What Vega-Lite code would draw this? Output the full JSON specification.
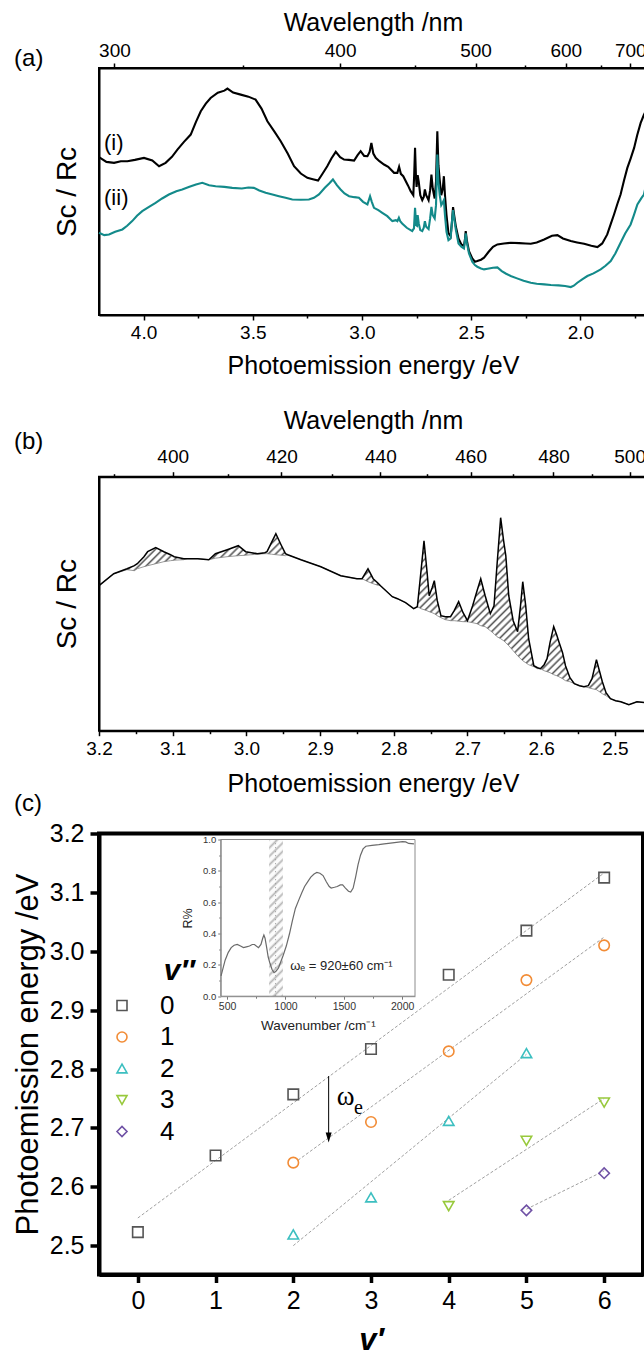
{
"$schema": "https://vega.github.io/schema/vega-lite/v6.json",
"padding": {"left": 10, "top": 9, "right": 0, "bottom": 0},
"config": {
 "font": "Liberation Sans",
 "view": {"stroke": null},
 "axis": {"grid": false, "domainColor": "#000", "tickColor": "#000", "labelColor": "#000", "titleColor": "#000", "titleFontWeight": "normal", "labelFlush": false, "labelOverlap": false, "labelFont": "Liberation Sans", "titleFont": "Liberation Sans"},
 "legend": {"labelFont": "Liberation Sans"},
 "text": {"color": "#000"}
},
"datasets": {
 "ai": [{"E":4.204,"I":474},{"E":4.17,"I":460},{"E":4.135,"I":457},{"E":4.104,"I":462},{"E":4.074,"I":462},{"E":4.04,"I":466},{"E":3.998,"I":472},{"E":3.96,"I":464},{"E":3.929,"I":447},{"E":3.899,"I":457},{"E":3.87,"I":475},{"E":3.845,"I":497},{"E":3.815,"I":520},{"E":3.784,"I":542},{"E":3.76,"I":580},{"E":3.738,"I":612},{"E":3.715,"I":635},{"E":3.693,"I":652},{"E":3.66,"I":668},{"E":3.63,"I":674},{"E":3.616,"I":680},{"E":3.59,"I":668},{"E":3.555,"I":662},{"E":3.52,"I":656},{"E":3.487,"I":647},{"E":3.46,"I":620},{"E":3.433,"I":582},{"E":3.4,"I":550},{"E":3.372,"I":522},{"E":3.34,"I":485},{"E":3.311,"I":447},{"E":3.28,"I":425},{"E":3.25,"I":412},{"E":3.225,"I":408},{"E":3.201,"I":404},{"E":3.18,"I":425},{"E":3.159,"I":447},{"E":3.14,"I":470},{"E":3.12,"I":490},{"E":3.1,"I":474},{"E":3.082,"I":467},{"E":3.06,"I":466},{"E":3.036,"I":464},{"E":3.02,"I":480},{"E":3.006,"I":492},{"E":2.99,"I":478},{"E":2.975,"I":477},{"E":2.965,"I":490},{"E":2.957,"I":517},{"E":2.948,"I":485},{"E":2.937,"I":472},{"E":2.92,"I":462},{"E":2.899,"I":452},{"E":2.88,"I":445},{"E":2.853,"I":427},{"E":2.838,"I":427},{"E":2.83,"I":445},{"E":2.822,"I":424},{"E":2.811,"I":417},{"E":2.79,"I":390},{"E":2.777,"I":372},{"E":2.765,"I":360},{"E":2.761,"I":420},{"E":2.757,"I":502},{"E":2.753,"I":420},{"E":2.75,"I":385},{"E":2.745,"I":420},{"E":2.74,"I":400},{"E":2.733,"I":360},{"E":2.724,"I":345},{"E":2.717,"I":355},{"E":2.712,"I":377},{"E":2.706,"I":360},{"E":2.695,"I":345},{"E":2.688,"I":375},{"E":2.682,"I":422},{"E":2.676,"I":380},{"E":2.667,"I":350},{"E":2.661,"I":400},{"E":2.655,"I":552},{"E":2.65,"I":450},{"E":2.644,"I":405},{"E":2.637,"I":360},{"E":2.63,"I":380},{"E":2.625,"I":417},{"E":2.62,"I":360},{"E":2.613,"I":300},{"E":2.604,"I":245},{"E":2.594,"I":237},{"E":2.588,"I":280},{"E":2.583,"I":324},{"E":2.578,"I":300},{"E":2.57,"I":265},{"E":2.558,"I":230},{"E":2.545,"I":212},{"E":2.533,"I":207},{"E":2.528,"I":230},{"E":2.525,"I":252},{"E":2.52,"I":225},{"E":2.51,"I":192},{"E":2.495,"I":170},{"E":2.483,"I":160},{"E":2.472,"I":162},{"E":2.455,"I":166},{"E":2.441,"I":172},{"E":2.42,"I":190},{"E":2.4,"I":205},{"E":2.38,"I":212},{"E":2.35,"I":215},{"E":2.319,"I":217},{"E":2.28,"I":216},{"E":2.25,"I":215},{"E":2.227,"I":214},{"E":2.2,"I":218},{"E":2.166,"I":227},{"E":2.13,"I":238},{"E":2.105,"I":240},{"E":2.08,"I":230},{"E":2.044,"I":222},{"E":2.015,"I":218},{"E":1.983,"I":214},{"E":1.95,"I":208},{"E":1.922,"I":204},{"E":1.9,"I":215},{"E":1.877,"I":242},{"E":1.86,"I":275},{"E":1.846,"I":302},{"E":1.83,"I":335},{"E":1.816,"I":362},{"E":1.8,"I":405},{"E":1.785,"I":442},{"E":1.77,"I":470},{"E":1.754,"I":502},{"E":1.74,"I":540},{"E":1.724,"I":577},{"E":1.71,"I":600},{"E":1.701,"I":612},{"E":1.695,"I":622}],
 "aii": [{"E":4.204,"I":247},{"E":4.18,"I":240},{"E":4.158,"I":242},{"E":4.13,"I":250},{"E":4.097,"I":257},{"E":4.075,"I":268},{"E":4.052,"I":282},{"E":4.03,"I":298},{"E":4.006,"I":312},{"E":3.975,"I":325},{"E":3.945,"I":337},{"E":3.915,"I":350},{"E":3.884,"I":362},{"E":3.85,"I":372},{"E":3.823,"I":377},{"E":3.79,"I":385},{"E":3.76,"I":392},{"E":3.731,"I":397},{"E":3.7,"I":390},{"E":3.67,"I":387},{"E":3.63,"I":385},{"E":3.594,"I":382},{"E":3.55,"I":380},{"E":3.52,"I":383},{"E":3.495,"I":382},{"E":3.47,"I":374},{"E":3.441,"I":367},{"E":3.41,"I":362},{"E":3.38,"I":357},{"E":3.35,"I":352},{"E":3.319,"I":347},{"E":3.28,"I":346},{"E":3.243,"I":347},{"E":3.22,"I":352},{"E":3.197,"I":362},{"E":3.17,"I":382},{"E":3.15,"I":395},{"E":3.133,"I":407},{"E":3.115,"I":390},{"E":3.098,"I":377},{"E":3.08,"I":365},{"E":3.059,"I":357},{"E":3.035,"I":354},{"E":3.014,"I":352},{"E":2.995,"I":340},{"E":2.975,"I":332},{"E":2.963,"I":357},{"E":2.955,"I":340},{"E":2.945,"I":322},{"E":2.925,"I":315},{"E":2.907,"I":307},{"E":2.884,"I":297},{"E":2.861,"I":282},{"E":2.845,"I":285},{"E":2.838,"I":282},{"E":2.831,"I":292},{"E":2.825,"I":282},{"E":2.816,"I":275},{"E":2.795,"I":262},{"E":2.77,"I":252},{"E":2.762,"I":260},{"E":2.757,"I":322},{"E":2.752,"I":270},{"E":2.748,"I":268},{"E":2.745,"I":300},{"E":2.74,"I":275},{"E":2.733,"I":255},{"E":2.724,"I":252},{"E":2.717,"I":262},{"E":2.712,"I":282},{"E":2.706,"I":265},{"E":2.695,"I":258},{"E":2.688,"I":290},{"E":2.682,"I":325},{"E":2.676,"I":300},{"E":2.667,"I":290},{"E":2.661,"I":330},{"E":2.655,"I":482},{"E":2.65,"I":400},{"E":2.644,"I":360},{"E":2.637,"I":330},{"E":2.63,"I":338},{"E":2.625,"I":345},{"E":2.62,"I":300},{"E":2.613,"I":250},{"E":2.604,"I":225},{"E":2.594,"I":230},{"E":2.588,"I":280},{"E":2.583,"I":315},{"E":2.578,"I":290},{"E":2.57,"I":255},{"E":2.558,"I":215},{"E":2.545,"I":205},{"E":2.533,"I":200},{"E":2.528,"I":225},{"E":2.525,"I":245},{"E":2.52,"I":218},{"E":2.51,"I":185},{"E":2.495,"I":160},{"E":2.483,"I":150},{"E":2.472,"I":145},{"E":2.455,"I":140},{"E":2.441,"I":137},{"E":2.425,"I":139},{"E":2.4,"I":142},{"E":2.38,"I":143},{"E":2.36,"I":132},{"E":2.34,"I":124},{"E":2.319,"I":117},{"E":2.29,"I":110},{"E":2.26,"I":103},{"E":2.227,"I":97},{"E":2.2,"I":94},{"E":2.165,"I":92},{"E":2.135,"I":90},{"E":2.1,"I":89},{"E":2.07,"I":87},{"E":2.044,"I":84},{"E":2.03,"I":88},{"E":2.014,"I":97},{"E":1.99,"I":108},{"E":1.968,"I":117},{"E":1.94,"I":125},{"E":1.907,"I":137},{"E":1.885,"I":148},{"E":1.861,"I":162},{"E":1.84,"I":185},{"E":1.816,"I":217},{"E":1.795,"I":245},{"E":1.77,"I":272},{"E":1.755,"I":300},{"E":1.739,"I":332},{"E":1.72,"I":352},{"E":1.709,"I":362},{"E":1.7,"I":390},{"E":1.695,"I":405}],
 "b": [{"E":3.2,"s":145,"b":145},{"E":3.18,"s":157,"b":157},{"E":3.162,"s":162,"b":161},{"E":3.152,"s":165,"b":160},{"E":3.148,"s":167,"b":162},{"E":3.139,"s":174,"b":164},{"E":3.134,"s":179,"b":165},{"E":3.123,"s":183,"b":167},{"E":3.112,"s":179,"b":169},{"E":3.103,"s":176,"b":170},{"E":3.098,"s":174,"b":170.5},{"E":3.085,"s":172,"b":171},{"E":3.08,"s":172,"b":172},{"E":3.066,"s":172,"b":172},{"E":3.051,"s":171,"b":171},{"E":3.042,"s":177,"b":172.5},{"E":3.026,"s":181,"b":174},{"E":3.011,"s":185,"b":175},{"E":3.001,"s":179,"b":175.5},{"E":2.985,"s":177,"b":176.5},{"E":2.975,"s":178,"b":177},{"E":2.972,"s":179,"b":177},{"E":2.966,"s":188,"b":176.5},{"E":2.96,"s":197,"b":176},{"E":2.953,"s":186,"b":175.5},{"E":2.947,"s":177,"b":175},{"E":2.944,"s":176,"b":176},{"E":2.926,"s":171,"b":171},{"E":2.899,"s":164,"b":164},{"E":2.872,"s":155,"b":155},{"E":2.85,"s":152,"b":152},{"E":2.843,"s":152,"b":152},{"E":2.835,"s":162,"b":149},{"E":2.828,"s":152,"b":147},{"E":2.822,"s":148,"b":145.5},{"E":2.818,"s":145,"b":145},{"E":2.802,"s":134,"b":134},{"E":2.795,"s":132,"b":132},{"E":2.784,"s":128,"b":128},{"E":2.773,"s":122,"b":122},{"E":2.768,"s":124,"b":124},{"E":2.763,"s":160,"b":122},{"E":2.759,"s":190,"b":121},{"E":2.755,"s":160,"b":120},{"E":2.752,"s":135,"b":119},{"E":2.748,"s":143,"b":118},{"E":2.745,"s":150,"b":117},{"E":2.741,"s":130,"b":115},{"E":2.736,"s":115,"b":113},{"E":2.73,"s":114,"b":111},{"E":2.723,"s":114,"b":110},{"E":2.718,"s":120,"b":110},{"E":2.712,"s":129,"b":109.5},{"E":2.706,"s":118,"b":109},{"E":2.7,"s":110,"b":109},{"E":2.693,"s":125,"b":108},{"E":2.687,"s":140,"b":107},{"E":2.682,"s":152,"b":105},{"E":2.676,"s":135,"b":104},{"E":2.669,"s":117,"b":100},{"E":2.664,"s":125,"b":97},{"E":2.66,"s":165,"b":94},{"E":2.655,"s":213,"b":92},{"E":2.651,"s":190,"b":90},{"E":2.648,"s":175,"b":88},{"E":2.644,"s":135,"b":85},{"E":2.638,"s":110,"b":80},{"E":2.632,"s":99,"b":75},{"E":2.628,"s":125,"b":72},{"E":2.625,"s":149,"b":70},{"E":2.621,"s":125,"b":68},{"E":2.617,"s":92,"b":66},{"E":2.61,"s":65,"b":64},{"E":2.605,"s":63,"b":62},{"E":2.601,"s":62,"b":62},{"E":2.596,"s":66,"b":60},{"E":2.592,"s":72,"b":59},{"E":2.588,"s":88,"b":58},{"E":2.583,"s":104,"b":56},{"E":2.579,"s":96,"b":55},{"E":2.576,"s":89,"b":54},{"E":2.571,"s":78,"b":52},{"E":2.567,"s":65,"b":50},{"E":2.561,"s":53,"b":49},{"E":2.555,"s":47,"b":47},{"E":2.548,"s":45,"b":45},{"E":2.542,"s":44,"b":44},{"E":2.536,"s":45,"b":43},{"E":2.531,"s":52,"b":42},{"E":2.525,"s":71,"b":41},{"E":2.521,"s":60,"b":39},{"E":2.517,"s":49,"b":37},{"E":2.512,"s":38,"b":35},{"E":2.506,"s":32,"b":32},{"E":2.499,"s":30,"b":30},{"E":2.492,"s":29,"b":29},{"E":2.481,"s":26,"b":26},{"E":2.47,"s":29,"b":29},{"E":2.4564,"s":28,"b":28}],
 "inset": [{"k":448,"R":0.13},{"k":483,"R":0.23},{"k":510,"R":0.28},{"k":535,"R":0.31},{"k":560,"R":0.325},{"k":587,"R":0.33},{"k":615,"R":0.32},{"k":640,"R":0.31},{"k":665,"R":0.315},{"k":692,"R":0.32},{"k":715,"R":0.33},{"k":734,"R":0.33},{"k":750,"R":0.32},{"k":769,"R":0.31},{"k":790,"R":0.33},{"k":805,"R":0.37},{"k":815,"R":0.39},{"k":825,"R":0.37},{"k":839,"R":0.31},{"k":852,"R":0.25},{"k":867,"R":0.21},{"k":885,"R":0.17},{"k":902,"R":0.15},{"k":920,"R":0.16},{"k":940,"R":0.18},{"k":955,"R":0.21},{"k":980,"R":0.26},{"k":1007,"R":0.32},{"k":1035,"R":0.4},{"k":1059,"R":0.48},{"k":1085,"R":0.56},{"k":1112,"R":0.61},{"k":1140,"R":0.66},{"k":1164,"R":0.7},{"k":1190,"R":0.73},{"k":1217,"R":0.76},{"k":1245,"R":0.78},{"k":1269,"R":0.79},{"k":1295,"R":0.785},{"k":1322,"R":0.77},{"k":1350,"R":0.73},{"k":1375,"R":0.7},{"k":1392,"R":0.69},{"k":1420,"R":0.695},{"k":1444,"R":0.7},{"k":1470,"R":0.71},{"k":1490,"R":0.71},{"k":1514,"R":0.69},{"k":1540,"R":0.67},{"k":1559,"R":0.665},{"k":1580,"R":0.69},{"k":1601,"R":0.76},{"k":1622,"R":0.84},{"k":1643,"R":0.9},{"k":1665,"R":0.94},{"k":1689,"R":0.957},{"k":1741,"R":0.962},{"k":1800,"R":0.967},{"k":1846,"R":0.972},{"k":1900,"R":0.977},{"k":1951,"R":0.982},{"k":2003,"R":0.987},{"k":2030,"R":0.985},{"k":2056,"R":0.975},{"k":2101,"R":0.972}],
 "pts": [{"vp":0,"E":2.523,"g":"0"},{"vp":1,"E":2.653,"g":"0"},{"vp":2,"E":2.757,"g":"0"},{"vp":3,"E":2.834,"g":"0"},{"vp":4,"E":2.96,"g":"0"},{"vp":5,"E":3.035,"g":"0"},{"vp":6,"E":3.125,"g":"0"},{"vp":2,"E":2.641,"g":"1"},{"vp":3,"E":2.71,"g":"1"},{"vp":4,"E":2.83,"g":"1"},{"vp":5,"E":2.951,"g":"1"},{"vp":6,"E":3.01,"g":"1"},{"vp":2,"E":2.519,"g":"2"},{"vp":3,"E":2.582,"g":"2"},{"vp":4,"E":2.712,"g":"2"},{"vp":5,"E":2.827,"g":"2"},{"vp":4,"E":2.567,"g":"3"},{"vp":5,"E":2.678,"g":"3"},{"vp":6,"E":2.743,"g":"3"},{"vp":5,"E":2.56,"g":"4"},{"vp":6,"E":2.623,"g":"4"}],
 "fits": [{"g":"0","vp":0,"E":2.547},{"g":"0","vp":6,"E":3.133},{"g":"1","vp":2.06,"E":2.645},{"g":"1","vp":6,"E":3.024},{"g":"2","vp":2,"E":2.5},{"g":"2","vp":5,"E":2.825},{"g":"3","vp":4,"E":2.577},{"g":"3","vp":6,"E":2.75},{"g":"4","vp":5,"E":2.562},{"g":"4","vp":6,"E":2.627}]
},
"resolve": {"scale": {"color": "independent", "shape": "independent"}, "legend": {"color": "independent", "shape": "independent"}},
"concat": [
 {"vconcat": [
  {
   "width": 548, "height": 247,
   "view": {"stroke": "#000", "strokeWidth": 2},
   "resolve": {"axis": {"x": "independent", "y": "independent"}},
   "layer": [
    {"data": {"name": "ai"}, "mark": {"type": "line", "color": "#000", "strokeWidth": 2.1},
     "encoding": {
      "x": {"field": "E", "type": "quantitative", "scale": {"domain": [1.695, 4.204], "reverse": true, "nice": false, "zero": false},
            "axis": {"orient": "bottom", "values": [4, 3.5, 3, 2.5, 2], "format": ".1f", "title": "Photoemission energy /eV", "labelFontSize": 19, "titleFontSize": 25, "tickSize": 5, "tickWidth": 1.5, "domainWidth": 2, "labelPadding": 3, "titlePadding": 11.5}},
      "y": {"field": "I", "type": "quantitative", "scale": {"domain": [0, 742], "nice": false, "zero": false},
            "axis": {"title": "Sᴄ / Rᴄ", "labels": false, "ticks": false, "domainWidth": 2, "titleFontSize": 28, "titlePadding": 18}}
     }},
    {"data": {"name": "aii"}, "mark": {"type": "line", "color": "#138a8a", "strokeWidth": 2.1},
     "encoding": {
      "x": {"field": "E", "type": "quantitative",
            "axis": {"orient": "top", "values": [4.1333, 3.1, 2.48, 2.0667, 1.7714], "labelExpr": "format(1240/datum.value, '.0f')", "title": "Wavelength /nm", "labelFontSize": 19, "titleFontSize": 25, "tickSize": 5, "tickWidth": 1.5, "domainWidth": 2, "labelPadding": 3, "titlePadding": 6}},
      "y": {"field": "I", "type": "quantitative", "axis": null}
     }},
    {"data": {"values": [{"E": 4.181, "I": 517, "t": "(i)"}, {"E": 4.181, "I": 350, "t": "(ii)"}]},
     "mark": {"type": "text", "align": "left", "baseline": "middle", "fontSize": 22},
     "encoding": {
      "x": {"field": "E", "type": "quantitative", "axis": {"orient": "bottom", "values": [3.75, 3.25, 2.75, 2.25, 1.75], "labels": false, "title": null, "domain": false, "tickSize": 3, "tickWidth": 1.5}},
      "y": {"field": "I", "type": "quantitative", "axis": null},
      "text": {"field": "t"}
     }},
    {"data": {"values": [{"E": 4.593, "I": 769, "t": "(a)"}]},
     "mark": {"type": "text", "align": "left", "baseline": "middle", "fontSize": 24},
     "encoding": {
      "x": {"field": "E", "type": "quantitative", "axis": {"orient": "top", "values": [3.5429, 2.7556, 2.2545, 1.9077], "labels": false, "title": null, "domain": false, "tickSize": 3, "tickWidth": 1.5}},
      "y": {"field": "I", "type": "quantitative", "axis": null},
      "text": {"field": "t"}
     }}
   ]
  },
  {
   "width": 548, "height": 254,
   "view": {"stroke": "#000", "strokeWidth": 2},
   "resolve": {"axis": {"x": "independent", "y": "independent"}},
   "layer": [
    {"data": {"name": "b"}, "mark": {"type": "area", "fill": {"gradient": "linear", "x1": 0, "y1": 0, "x2": 1.2, "y2": 0.41, "stops": [
{"offset":0,"color":"#555"},{"offset":0.003,"color":"#fff"},{"offset":0.007,"color":"#fff"},{"offset":0.01,"color":"#555"},{"offset":0.013,"color":"#fff"},{"offset":0.017,"color":"#fff"},{"offset":0.02,"color":"#555"},{"offset":0.023,"color":"#fff"},{"offset":0.027,"color":"#fff"},{"offset":0.03,"color":"#555"},{"offset":0.033,"color":"#fff"},{"offset":0.037,"color":"#fff"},{"offset":0.04,"color":"#555"},{"offset":0.043,"color":"#fff"},{"offset":0.047,"color":"#fff"},{"offset":0.05,"color":"#555"},{"offset":0.053,"color":"#fff"},{"offset":0.057,"color":"#fff"},{"offset":0.06,"color":"#555"},{"offset":0.063,"color":"#fff"},{"offset":0.067,"color":"#fff"},{"offset":0.07,"color":"#555"},{"offset":0.073,"color":"#fff"},{"offset":0.077,"color":"#fff"},{"offset":0.08,"color":"#555"},{"offset":0.083,"color":"#fff"},{"offset":0.087,"color":"#fff"},{"offset":0.09,"color":"#555"},{"offset":0.093,"color":"#fff"},{"offset":0.097,"color":"#fff"},
{"offset":0.1,"color":"#555"},{"offset":0.103,"color":"#fff"},{"offset":0.107,"color":"#fff"},{"offset":0.11,"color":"#555"},{"offset":0.113,"color":"#fff"},{"offset":0.117,"color":"#fff"},{"offset":0.12,"color":"#555"},{"offset":0.123,"color":"#fff"},{"offset":0.127,"color":"#fff"},{"offset":0.13,"color":"#555"},{"offset":0.133,"color":"#fff"},{"offset":0.137,"color":"#fff"},{"offset":0.14,"color":"#555"},{"offset":0.143,"color":"#fff"},{"offset":0.147,"color":"#fff"},{"offset":0.15,"color":"#555"},{"offset":0.153,"color":"#fff"},{"offset":0.157,"color":"#fff"},{"offset":0.16,"color":"#555"},{"offset":0.163,"color":"#fff"},{"offset":0.167,"color":"#fff"},{"offset":0.17,"color":"#555"},{"offset":0.173,"color":"#fff"},{"offset":0.177,"color":"#fff"},{"offset":0.18,"color":"#555"},{"offset":0.183,"color":"#fff"},{"offset":0.187,"color":"#fff"},{"offset":0.19,"color":"#555"},{"offset":0.193,"color":"#fff"},{"offset":0.197,"color":"#fff"},
{"offset":0.2,"color":"#555"},{"offset":0.203,"color":"#fff"},{"offset":0.207,"color":"#fff"},{"offset":0.21,"color":"#555"},{"offset":0.213,"color":"#fff"},{"offset":0.217,"color":"#fff"},{"offset":0.22,"color":"#555"},{"offset":0.223,"color":"#fff"},{"offset":0.227,"color":"#fff"},{"offset":0.23,"color":"#555"},{"offset":0.233,"color":"#fff"},{"offset":0.237,"color":"#fff"},{"offset":0.24,"color":"#555"},{"offset":0.243,"color":"#fff"},{"offset":0.247,"color":"#fff"},{"offset":0.25,"color":"#555"},{"offset":0.253,"color":"#fff"},{"offset":0.257,"color":"#fff"},{"offset":0.26,"color":"#555"},{"offset":0.263,"color":"#fff"},{"offset":0.267,"color":"#fff"},{"offset":0.27,"color":"#555"},{"offset":0.273,"color":"#fff"},{"offset":0.277,"color":"#fff"},{"offset":0.28,"color":"#555"},{"offset":0.283,"color":"#fff"},{"offset":0.287,"color":"#fff"},{"offset":0.29,"color":"#555"},{"offset":0.293,"color":"#fff"},{"offset":0.297,"color":"#fff"},
{"offset":0.3,"color":"#555"},{"offset":0.303,"color":"#fff"},{"offset":0.307,"color":"#fff"},{"offset":0.31,"color":"#555"},{"offset":0.313,"color":"#fff"},{"offset":0.317,"color":"#fff"},{"offset":0.32,"color":"#555"},{"offset":0.323,"color":"#fff"},{"offset":0.327,"color":"#fff"},{"offset":0.33,"color":"#555"},{"offset":0.333,"color":"#fff"},{"offset":0.337,"color":"#fff"},{"offset":0.34,"color":"#555"},{"offset":0.343,"color":"#fff"},{"offset":0.347,"color":"#fff"},{"offset":0.35,"color":"#555"},{"offset":0.353,"color":"#fff"},{"offset":0.357,"color":"#fff"},{"offset":0.36,"color":"#555"},{"offset":0.363,"color":"#fff"},{"offset":0.367,"color":"#fff"},{"offset":0.37,"color":"#555"},{"offset":0.373,"color":"#fff"},{"offset":0.377,"color":"#fff"},{"offset":0.38,"color":"#555"},{"offset":0.383,"color":"#fff"},{"offset":0.387,"color":"#fff"},{"offset":0.39,"color":"#555"},{"offset":0.393,"color":"#fff"},{"offset":0.397,"color":"#fff"},
{"offset":0.4,"color":"#555"},{"offset":0.403,"color":"#fff"},{"offset":0.407,"color":"#fff"},{"offset":0.41,"color":"#555"},{"offset":0.413,"color":"#fff"},{"offset":0.417,"color":"#fff"},{"offset":0.42,"color":"#555"},{"offset":0.423,"color":"#fff"},{"offset":0.427,"color":"#fff"},{"offset":0.43,"color":"#555"},{"offset":0.433,"color":"#fff"},{"offset":0.437,"color":"#fff"},{"offset":0.44,"color":"#555"},{"offset":0.443,"color":"#fff"},{"offset":0.447,"color":"#fff"},{"offset":0.45,"color":"#555"},{"offset":0.453,"color":"#fff"},{"offset":0.457,"color":"#fff"},{"offset":0.46,"color":"#555"},{"offset":0.463,"color":"#fff"},{"offset":0.467,"color":"#fff"},{"offset":0.47,"color":"#555"},{"offset":0.473,"color":"#fff"},{"offset":0.477,"color":"#fff"},{"offset":0.48,"color":"#555"},{"offset":0.483,"color":"#fff"},{"offset":0.487,"color":"#fff"},{"offset":0.49,"color":"#555"},{"offset":0.493,"color":"#fff"},{"offset":0.497,"color":"#fff"},
{"offset":0.5,"color":"#555"},{"offset":0.503,"color":"#fff"},{"offset":0.507,"color":"#fff"},{"offset":0.51,"color":"#555"},{"offset":0.513,"color":"#fff"},{"offset":0.517,"color":"#fff"},{"offset":0.52,"color":"#555"},{"offset":0.523,"color":"#fff"},{"offset":0.527,"color":"#fff"},{"offset":0.53,"color":"#555"},{"offset":0.533,"color":"#fff"},{"offset":0.537,"color":"#fff"},{"offset":0.54,"color":"#555"},{"offset":0.543,"color":"#fff"},{"offset":0.547,"color":"#fff"},{"offset":0.55,"color":"#555"},{"offset":0.553,"color":"#fff"},{"offset":0.557,"color":"#fff"},{"offset":0.56,"color":"#555"},{"offset":0.563,"color":"#fff"},{"offset":0.567,"color":"#fff"},{"offset":0.57,"color":"#555"},{"offset":0.573,"color":"#fff"},{"offset":0.577,"color":"#fff"},{"offset":0.58,"color":"#555"},{"offset":0.583,"color":"#fff"},{"offset":0.587,"color":"#fff"},{"offset":0.59,"color":"#555"},{"offset":0.593,"color":"#fff"},{"offset":0.597,"color":"#fff"},
{"offset":0.6,"color":"#555"},{"offset":0.603,"color":"#fff"},{"offset":0.607,"color":"#fff"},{"offset":0.61,"color":"#555"},{"offset":0.613,"color":"#fff"},{"offset":0.617,"color":"#fff"},{"offset":0.62,"color":"#555"},{"offset":0.623,"color":"#fff"},{"offset":0.627,"color":"#fff"},{"offset":0.63,"color":"#555"},{"offset":0.633,"color":"#fff"},{"offset":0.637,"color":"#fff"},{"offset":0.64,"color":"#555"},{"offset":0.643,"color":"#fff"},{"offset":0.647,"color":"#fff"},{"offset":0.65,"color":"#555"},{"offset":0.653,"color":"#fff"},{"offset":0.657,"color":"#fff"},{"offset":0.66,"color":"#555"},{"offset":0.663,"color":"#fff"},{"offset":0.667,"color":"#fff"},{"offset":0.67,"color":"#555"},{"offset":0.673,"color":"#fff"},{"offset":0.677,"color":"#fff"},{"offset":0.68,"color":"#555"},{"offset":0.683,"color":"#fff"},{"offset":0.687,"color":"#fff"},{"offset":0.69,"color":"#555"},{"offset":0.693,"color":"#fff"},{"offset":0.697,"color":"#fff"},
{"offset":0.7,"color":"#555"},{"offset":0.703,"color":"#fff"},{"offset":0.707,"color":"#fff"},{"offset":0.71,"color":"#555"},{"offset":0.713,"color":"#fff"},{"offset":0.717,"color":"#fff"},{"offset":0.72,"color":"#555"},{"offset":0.723,"color":"#fff"},{"offset":0.727,"color":"#fff"},{"offset":0.73,"color":"#555"},{"offset":0.733,"color":"#fff"},{"offset":0.737,"color":"#fff"},{"offset":0.74,"color":"#555"},{"offset":0.743,"color":"#fff"},{"offset":0.747,"color":"#fff"},{"offset":0.75,"color":"#555"},{"offset":0.753,"color":"#fff"},{"offset":0.757,"color":"#fff"},{"offset":0.76,"color":"#555"},{"offset":0.763,"color":"#fff"},{"offset":0.767,"color":"#fff"},{"offset":0.77,"color":"#555"},{"offset":0.773,"color":"#fff"},{"offset":0.777,"color":"#fff"},{"offset":0.78,"color":"#555"},{"offset":0.783,"color":"#fff"},{"offset":0.787,"color":"#fff"},{"offset":0.79,"color":"#555"},{"offset":0.793,"color":"#fff"},{"offset":0.797,"color":"#fff"},
{"offset":0.8,"color":"#555"},{"offset":0.803,"color":"#fff"},{"offset":0.807,"color":"#fff"},{"offset":0.81,"color":"#555"},{"offset":0.813,"color":"#fff"},{"offset":0.817,"color":"#fff"},{"offset":0.82,"color":"#555"},{"offset":0.823,"color":"#fff"},{"offset":0.827,"color":"#fff"},{"offset":0.83,"color":"#555"},{"offset":0.833,"color":"#fff"},{"offset":0.837,"color":"#fff"},{"offset":0.84,"color":"#555"},{"offset":0.843,"color":"#fff"},{"offset":0.847,"color":"#fff"},{"offset":0.85,"color":"#555"},{"offset":0.853,"color":"#fff"},{"offset":0.857,"color":"#fff"},{"offset":0.86,"color":"#555"},{"offset":0.863,"color":"#fff"},{"offset":0.867,"color":"#fff"},{"offset":0.87,"color":"#555"},{"offset":0.873,"color":"#fff"},{"offset":0.877,"color":"#fff"},{"offset":0.88,"color":"#555"},{"offset":0.883,"color":"#fff"},{"offset":0.887,"color":"#fff"},{"offset":0.89,"color":"#555"},{"offset":0.893,"color":"#fff"},{"offset":0.897,"color":"#fff"},
{"offset":0.9,"color":"#555"},{"offset":0.903,"color":"#fff"},{"offset":0.907,"color":"#fff"},{"offset":0.91,"color":"#555"},{"offset":0.913,"color":"#fff"},{"offset":0.917,"color":"#fff"},{"offset":0.92,"color":"#555"},{"offset":0.923,"color":"#fff"},{"offset":0.927,"color":"#fff"},{"offset":0.93,"color":"#555"},{"offset":0.933,"color":"#fff"},{"offset":0.937,"color":"#fff"},{"offset":0.94,"color":"#555"},{"offset":0.943,"color":"#fff"},{"offset":0.947,"color":"#fff"},{"offset":0.95,"color":"#555"},{"offset":0.953,"color":"#fff"},{"offset":0.957,"color":"#fff"},{"offset":0.96,"color":"#555"},{"offset":0.963,"color":"#fff"},{"offset":0.967,"color":"#fff"},{"offset":0.97,"color":"#555"},{"offset":0.973,"color":"#fff"},{"offset":0.977,"color":"#fff"},{"offset":0.98,"color":"#555"},{"offset":0.983,"color":"#fff"},{"offset":0.987,"color":"#fff"},{"offset":0.99,"color":"#555"},{"offset":0.993,"color":"#fff"},{"offset":0.997,"color":"#fff"},{"offset":1,"color":"#555"}]}},
     "encoding": {
      "x": {"field": "E", "type": "quantitative", "scale": {"domain": [2.4564, 3.2], "reverse": true, "nice": false, "zero": false},
            "axis": {"orient": "bottom", "values": [3.2, 3.1, 3.0, 2.9, 2.8, 2.7, 2.6, 2.5], "format": ".1f", "title": "Photoemission energy /eV", "labelFontSize": 19, "titleFontSize": 25, "tickSize": 5, "tickWidth": 1.5, "domainWidth": 2, "labelPadding": 3.5, "titlePadding": 13}},
      "y": {"field": "s", "type": "quantitative", "scale": {"domain": [0, 254], "nice": false, "zero": false},
            "axis": {"title": "Sᴄ / Rᴄ", "labels": false, "ticks": false, "domainWidth": 2, "titleFontSize": 28, "titlePadding": 18}},
      "y2": {"field": "b"}
     }},
    {"data": {"name": "b"}, "mark": {"type": "line", "color": "#808080", "strokeWidth": 0.8},
     "encoding": {
      "x": {"field": "E", "type": "quantitative",
            "axis": {"orient": "top", "values": [3.1, 2.9524, 2.8182, 2.6957, 2.5833, 2.48], "labelExpr": "format(1240/datum.value, '.0f')", "title": "Wavelength /nm", "labelFontSize": 19, "titleFontSize": 25, "tickSize": 5, "tickWidth": 1.5, "domainWidth": 2, "labelPadding": 5.5, "titlePadding": 14}},
      "y": {"field": "b", "type": "quantitative", "axis": null}
     }},
    {"data": {"name": "b"}, "mark": {"type": "line", "color": "#000", "strokeWidth": 1.5},
     "encoding": {
      "x": {"field": "E", "type": "quantitative", "axis": {"orient": "bottom", "values": [3.15, 3.05, 2.95, 2.85, 2.75, 2.65, 2.55], "labels": false, "title": null, "domain": false, "tickSize": 3, "tickWidth": 1.5}},
      "y": {"field": "s", "type": "quantitative", "axis": null}
     }},
    {"data": {"values": [{"E": 3.3153, "y": 289, "t": "(b)"}, {"E": 3.3153, "y": -73, "t": "(c)"}]},
     "mark": {"type": "text", "align": "left", "baseline": "middle", "fontSize": 24},
     "encoding": {
      "x": {"field": "E", "type": "quantitative", "axis": {"orient": "top", "values": [3.1795, 3.0244, 2.8837, 2.7556, 2.6383, 2.5306], "labels": false, "title": null, "domain": false, "tickSize": 3, "tickWidth": 1.5}},
      "y": {"field": "y", "type": "quantitative", "axis": null},
      "text": {"field": "t"}
     }}
   ]
  }
 ], "spacing": 26.7},
 {
  "width": 544, "height": 441,
  "view": {"stroke": "#000", "strokeWidth": 4},
  "resolve": {"scale": {"x": "independent", "y": "independent"}, "axis": {"x": "independent", "y": "independent"}},
  "layer": [
   {
    "resolve": {"axis": {"x": "independent", "y": "independent"}},
    "layer": [
     {"data": {"name": "fits"}, "mark": {"type": "line", "color": "#a0a0a0", "strokeWidth": 1, "strokeDash": [3, 2]},
      "encoding": {
       "x": {"field": "vp", "type": "quantitative", "scale": {"domain": [-0.5, 6.5], "nice": false, "zero": false},
             "axis": {"orient": "bottom", "values": [0, 1, 2, 3, 4, 5, 6], "format": "d", "title": "v′", "titleFontSize": 31, "titleFontStyle": "italic", "titleFontWeight": "bold", "labelFontSize": 25, "tickSize": 8, "tickWidth": 3.5, "domainWidth": 4, "labelPadding": 5.5, "titlePadding": 12}},
       "y": {"field": "E", "type": "quantitative", "scale": {"domain": [2.451, 3.2], "nice": false, "zero": false},
             "axis": {"values": [2.5, 2.6, 2.7, 2.8, 2.9, 3.0, 3.1, 3.2], "format": ".1f", "title": "Photoemission energy /eV", "titleFontSize": 31, "labelFontSize": 25, "tickSize": 9, "tickWidth": 3.5, "domainWidth": 4, "labelPadding": 6, "titlePadding": 5}},
       "detail": {"field": "g"}
      }},
     {"data": {"name": "pts"}, "mark": {"type": "point", "filled": false, "strokeWidth": 1.6, "size": 110, "opacity": 1},
      "encoding": {
       "x": {"field": "vp", "type": "quantitative", "axis": null},
       "y": {"field": "E", "type": "quantitative", "axis": {"values": [2.55, 2.65, 2.75, 2.85, 2.95, 3.05, 3.15], "labels": false, "title": null, "domain": false, "tickSize": 5, "tickWidth": 3}},
       "color": {"field": "g", "type": "nominal", "scale": {"domain": ["0", "1", "2", "3", "4"], "range": ["#555555", "#f28c36", "#3cbfc0", "#98c93c", "#6f51a5"]},
                 "legend": {"orient": "none", "legendX": 10, "legendY": 159, "title": null, "labelFontSize": 26, "labelColor": "#000", "symbolSize": 100, "symbolStrokeWidth": 1.6, "rowPadding": 5.5, "labelOffset": 25, "padding": 0}},
       "shape": {"field": "g", "type": "nominal", "scale": {"domain": ["0", "1", "2", "3", "4"], "range": ["square", "circle", "triangle-up", "triangle-down", "diamond"]},
                 "legend": {"orient": "none", "legendX": 10, "legendY": 159, "title": null, "labelFontSize": 26, "labelColor": "#000", "symbolSize": 100, "symbolStrokeWidth": 1.6, "rowPadding": 5.5, "labelOffset": 25, "padding": 0}}
      }},
     {"data": {"values": [{"vp": 2.455, "E": 2.788, "E2": 2.688}]}, "mark": {"type": "rule", "color": "#000", "strokeWidth": 1},
      "encoding": {
       "x": {"field": "vp", "type": "quantitative", "axis": null},
       "y": {"field": "E", "type": "quantitative", "axis": null},
       "y2": {"field": "E2"}
      }},
     {"data": {"values": [{"vp": 2.455, "E": 2.675}]}, "mark": {"type": "point", "shape": "M-0.6,-2L0.6,-2L0,0Z", "filled": true, "color": "#000", "size": 100, "opacity": 1},
      "encoding": {
       "x": {"field": "vp", "type": "quantitative", "axis": null},
       "y": {"field": "E", "type": "quantitative", "axis": null}
      }},
     {"data": {"values": [{"vp": 2.56, "E": 2.752, "t": "ω"}]}, "mark": {"type": "text", "align": "left", "baseline": "middle", "font": "Liberation Serif", "fontSize": 27},
      "encoding": {
       "x": {"field": "vp", "type": "quantitative", "axis": null},
       "y": {"field": "E", "type": "quantitative", "axis": null},
       "text": {"field": "t"}
      }},
     {"data": {"values": [{"vp": 2.78, "E": 2.733, "t": "e"}]}, "mark": {"type": "text", "align": "left", "baseline": "middle", "font": "Liberation Serif", "fontSize": 20},
      "encoding": {
       "x": {"field": "vp", "type": "quantitative", "axis": null},
       "y": {"field": "E", "type": "quantitative", "axis": null},
       "text": {"field": "t"}
      }},
     {"data": {"values": [{"vp": 0.333, "E": 2.966, "t": "v″"}]}, "mark": {"type": "text", "align": "left", "baseline": "middle", "fontSize": 30, "fontStyle": "italic", "fontWeight": "bold"},
      "encoding": {
       "x": {"field": "vp", "type": "quantitative", "axis": null},
       "y": {"field": "E", "type": "quantitative", "axis": null},
       "text": {"field": "t"}
      }}
    ]
   },
   {
    "resolve": {"axis": {"x": "independent", "y": "independent"}},
    "layer": [
     {"data": {"values": [{"lo": 860, "hi": 978, "mid": 915}]}, "mark": {"type": "rect", "fill": {"gradient": "linear", "x1": 0, "y1": 0, "x2": 0.0943, "y2": 1.075, "stops": [
{"offset":0,"color":"#b8b8b8"},{"offset":0.015,"color":"#fbfbfb"},{"offset":0.035,"color":"#fbfbfb"},{"offset":0.05,"color":"#b8b8b8"},{"offset":0.065,"color":"#fbfbfb"},{"offset":0.085,"color":"#fbfbfb"},{"offset":0.1,"color":"#b8b8b8"},{"offset":0.115,"color":"#fbfbfb"},{"offset":0.135,"color":"#fbfbfb"},{"offset":0.15,"color":"#b8b8b8"},{"offset":0.165,"color":"#fbfbfb"},{"offset":0.185,"color":"#fbfbfb"},{"offset":0.2,"color":"#b8b8b8"},{"offset":0.215,"color":"#fbfbfb"},{"offset":0.235,"color":"#fbfbfb"},{"offset":0.25,"color":"#b8b8b8"},{"offset":0.265,"color":"#fbfbfb"},{"offset":0.285,"color":"#fbfbfb"},{"offset":0.3,"color":"#b8b8b8"},{"offset":0.315,"color":"#fbfbfb"},{"offset":0.335,"color":"#fbfbfb"},{"offset":0.35,"color":"#b8b8b8"},{"offset":0.365,"color":"#fbfbfb"},{"offset":0.385,"color":"#fbfbfb"},{"offset":0.4,"color":"#b8b8b8"},{"offset":0.415,"color":"#fbfbfb"},{"offset":0.435,"color":"#fbfbfb"},{"offset":0.45,"color":"#b8b8b8"},{"offset":0.465,"color":"#fbfbfb"},{"offset":0.485,"color":"#fbfbfb"},{"offset":0.5,"color":"#b8b8b8"},{"offset":0.515,"color":"#fbfbfb"},{"offset":0.535,"color":"#fbfbfb"},{"offset":0.55,"color":"#b8b8b8"},{"offset":0.565,"color":"#fbfbfb"},{"offset":0.585,"color":"#fbfbfb"},{"offset":0.6,"color":"#b8b8b8"},{"offset":0.615,"color":"#fbfbfb"},{"offset":0.635,"color":"#fbfbfb"},{"offset":0.65,"color":"#b8b8b8"},{"offset":0.665,"color":"#fbfbfb"},{"offset":0.685,"color":"#fbfbfb"},{"offset":0.7,"color":"#b8b8b8"},{"offset":0.715,"color":"#fbfbfb"},{"offset":0.735,"color":"#fbfbfb"},{"offset":0.75,"color":"#b8b8b8"},{"offset":0.765,"color":"#fbfbfb"},{"offset":0.785,"color":"#fbfbfb"},{"offset":0.8,"color":"#b8b8b8"},{"offset":0.815,"color":"#fbfbfb"},{"offset":0.835,"color":"#fbfbfb"},{"offset":0.85,"color":"#b8b8b8"},{"offset":0.865,"color":"#fbfbfb"},{"offset":0.885,"color":"#fbfbfb"},{"offset":0.9,"color":"#b8b8b8"},{"offset":0.915,"color":"#fbfbfb"},{"offset":0.935,"color":"#fbfbfb"},{"offset":0.95,"color":"#b8b8b8"},{"offset":0.965,"color":"#fbfbfb"},{"offset":0.985,"color":"#fbfbfb"},{"offset":1,"color":"#b8b8b8"}]}},
      "encoding": {
       "x": {"field": "lo", "type": "quantitative", "scale": {"domain": [445, 2110], "range": [121.7, 316], "nice": false, "zero": false},
             "axis": {"orient": "bottom", "offset": -278.3, "values": [750, 1250, 1750], "labels": false, "title": null, "domain": false, "tickSize": 2, "tickColor": "#777", "tickWidth": 1}},
       "x2": {"field": "hi"},
       "y": {"datum": 0, "type": "quantitative", "scale": {"domain": [0, 1], "range": [162.7, 6], "nice": false, "zero": false},
             "axis": {"orient": "left", "offset": -121.7, "values": [0.1, 0.3, 0.5, 0.7, 0.9], "labels": false, "title": null, "domain": false, "tickSize": 2, "tickColor": "#777", "tickWidth": 1}},
       "y2": {"datum": 1}
      }},
     {"data": {"values": [{"lo": 860, "hi": 978, "mid": 915}]}, "mark": {"type": "rule", "color": "#999", "strokeWidth": 1, "strokeDash": [1, 3]},
      "encoding": {
       "x": {"field": "mid", "type": "quantitative", "axis": null},
       "y": {"datum": 0, "type": "quantitative", "axis": null},
       "y2": {"datum": 1}
      }},
     {"data": {"values": [{"a": 445, "b": 2110}]}, "mark": {"type": "rect", "fill": null, "fillOpacity": 0, "stroke": "#8c8c8c", "strokeWidth": 1},
      "encoding": {
       "x": {"field": "a", "type": "quantitative", "axis": null},
       "x2": {"field": "b"},
       "y": {"datum": 0, "type": "quantitative", "axis": null},
       "y2": {"datum": 1}
      }},
     {"data": {"name": "inset"}, "mark": {"type": "line", "color": "#6a6a6a", "strokeWidth": 1.2},
      "encoding": {
       "x": {"field": "k", "type": "quantitative",
             "axis": {"orient": "bottom", "offset": -278.3, "values": [500, 1000, 1500, 2000], "format": "d", "title": "Wavenumber /cm⁻¹", "labelFontSize": 10.5, "titleFontSize": 13.5, "tickSize": 3, "tickWidth": 1, "tickColor": "#777", "domainColor": "#8c8c8c", "domainWidth": 1, "labelColor": "#333", "titleColor": "#222", "labelPadding": 2, "titlePadding": 7}},
       "y": {"field": "R", "type": "quantitative",
             "axis": {"orient": "left", "offset": -121.7, "values": [0, 0.2, 0.4, 0.6, 0.8, 1.0], "format": ".1f", "title": "R%", "labelFontSize": 9.5, "titleFontSize": 12.5, "tickSize": 3, "tickWidth": 1, "tickColor": "#777", "domainColor": "#8c8c8c", "domainWidth": 1, "labelColor": "#333", "titleColor": "#222", "labelPadding": 2, "titlePadding": 8}}
      }},
     {"data": {"values": [{"k": 1040, "R": 0.19, "t": "ωₑ = 920±60 cm⁻¹"}]}, "mark": {"type": "text", "align": "left", "baseline": "middle", "fontSize": 13, "color": "#222"},
      "encoding": {
       "x": {"field": "k", "type": "quantitative", "axis": null},
       "y": {"field": "R", "type": "quantitative", "axis": null},
       "text": {"field": "t"}
      }}
    ]
   }
  ]
 }
],
"columns": 1,
"align": "none",
"spacing": 2.5
}
